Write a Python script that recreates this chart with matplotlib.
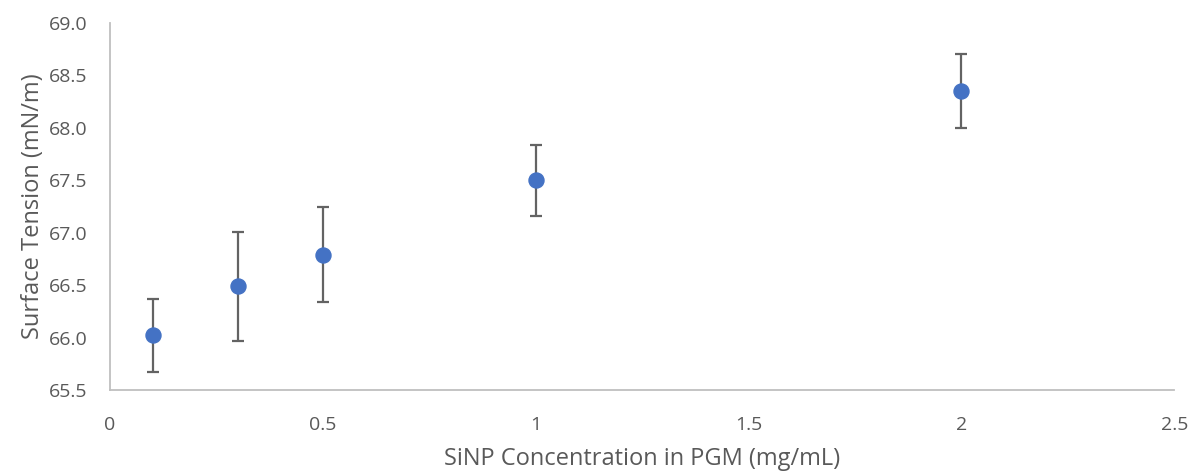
import numpy as np
import matplotlib.pyplot as plt

# SiNP concentration vs surface tension, mean +/- SD
conc = [0.1, 0.3, 0.5, 1.0, 2.0]
tension = [66.02, 66.49, 66.79, 67.50, 68.35]
tension_err = [0.345, 0.52, 0.455, 0.34, 0.355]

x_ticks = [0, 0.5, 1, 1.5, 2, 2.5]
x_ticklabels = ['0', '0.5', '1', '1.5', '2', '2.5']
y_ticks = [65.5, 66.0, 66.5, 67.0, 67.5, 68.0, 68.5, 69.0]

plt.rcParams['font.family'] = ['Open Sans', 'DejaVu Sans']
text_col = '#595959'

fig = plt.figure(figsize=(11.94, 4.75), dpi=100)
ax = fig.add_axes([0.0921, 0.1789, 0.8914, 0.7727])

ax.errorbar(conc, tension, yerr=tension_err, fmt='o', color='#4472C4',
            markersize=10.8, ecolor='#636363', elinewidth=1.6,
            capsize=4.5, capthick=1.6, zorder=3)

ax.set_xlim(0, 2.5)
ax.set_ylim(65.5, 69.0)
ax.set_xticks(x_ticks)
ax.set_xticklabels(x_ticklabels)
ax.set_yticks(y_ticks)
ax.set_yticklabels([f'{v:.1f}' for v in y_ticks])

for side in ['top', 'right']:
    ax.spines[side].set_visible(False)
for side in ['left', 'bottom']:
    ax.spines[side].set_color('#bfbfbf')
    ax.spines[side].set_linewidth(1.3)

ax.tick_params(axis='both', length=0, labelsize=14, labelcolor=text_col)
ax.tick_params(axis='x', pad=19)
ax.tick_params(axis='y', pad=16)

ax.set_xlabel('SiNP Concentration in PGM (mg/mL)', fontsize=17, color=text_col, labelpad=9)
ax.set_ylabel('Surface Tension (mN/m)', fontsize=17, color=text_col, labelpad=3)

plt.savefig('out.png', dpi=100)
plt.close()
